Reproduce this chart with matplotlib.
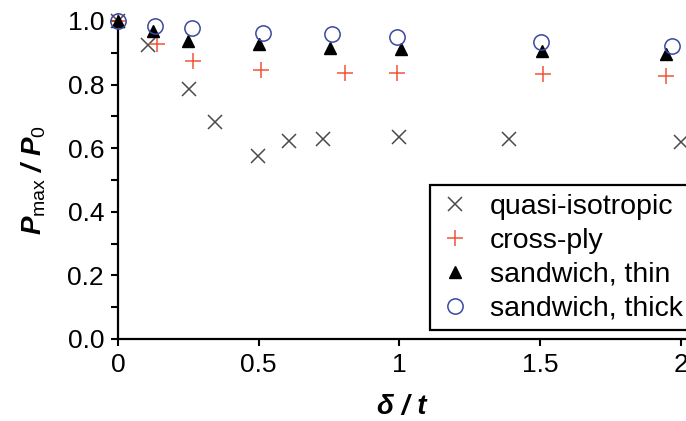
import matplotlib
matplotlib.use("Agg")
import matplotlib.pyplot as plt
from matplotlib.ticker import MultipleLocator, FormatStrFormatter

plt.rcParams['font.family'] = ['Liberation Sans', 'DejaVu Sans']
plt.rcParams['mathtext.fontset'] = 'custom'
plt.rcParams['mathtext.it'] = 'Liberation Sans:italic:bold'
plt.rcParams['mathtext.rm'] = 'Liberation Sans'
plt.rcParams['mathtext.bf'] = 'Liberation Sans:bold'

# data
qi_x = [0.0, 0.105, 0.253, 0.344, 0.497, 0.606, 0.727, 0.997, 1.39, 2.0]
qi_y = [1.0, 0.925, 0.787, 0.681, 0.575, 0.622, 0.628, 0.634, 0.628, 0.62]
cp_x = [0.0, 0.138, 0.265, 0.507, 0.805, 0.993, 1.51, 1.947]
cp_y = [1.0, 0.928, 0.875, 0.847, 0.838, 0.838, 0.834, 0.828]
thin_x = [0.0, 0.124, 0.249, 0.50, 0.752, 1.007, 1.507, 1.947]
thin_y = [1.0, 0.969, 0.9375, 0.928, 0.916, 0.9125, 0.906, 0.897]
thick_x = [0.0, 0.131, 0.262, 0.515, 0.759, 0.99, 1.503, 1.968]
thick_y = [1.0, 0.984, 0.978, 0.963, 0.959, 0.95, 0.934, 0.922]
labels = ['quasi-isotropic', 'cross-ply', 'sandwich, thin', 'sandwich, thick']

fig = plt.figure(figsize=(6.86, 4.21), dpi=100)
ax = fig.add_axes([118/686, 1-339/421, 1-118/686, (339-21)/421])

ax.plot(qi_x, qi_y, ls='none', marker='x', ms=10, mew=1.1, color='#4a4a4a', label=labels[0], clip_on=False, zorder=3)
ax.plot(cp_x, cp_y, ls='none', marker='+', ms=12, mew=1.1, color='#f0553a', label=labels[1], clip_on=False, zorder=3)
ax.plot(thin_x, thin_y, ls='none', marker='^', ms=9, color='black', label=labels[2], clip_on=False, zorder=4)
ax.plot(thick_x, thick_y, ls='none', marker='o', ms=11, mew=1.1, mfc='none', mec='#3a48a0', label=labels[3], clip_on=False, zorder=5)

ax.set_xlim(0, 2.018)
ax.set_ylim(0, 1.0)
ax.xaxis.set_major_locator(MultipleLocator(0.5))
ax.xaxis.set_major_formatter(FormatStrFormatter('%g'))
ax.yaxis.set_major_locator(MultipleLocator(0.2))
ax.yaxis.set_minor_locator(MultipleLocator(0.1))
ax.yaxis.set_major_formatter(FormatStrFormatter('%.1f'))

for s in ['top', 'right']:
    ax.spines[s].set_visible(False)
for s in ['left', 'bottom']:
    ax.spines[s].set_linewidth(1.6)
ax.tick_params(which='both', direction='out', length=5, width=1.5, labelsize=19, colors='black', pad=5)

ax.set_xlabel('δ / t', fontsize=20, fontweight='bold', style='italic', labelpad=12)
ax.set_ylabel(r'$P_{\mathrm{max}}$ / $P_{\mathrm{0}}$', fontsize=20, fontweight='bold', style='italic', labelpad=14)

leg = ax.legend(loc='lower left', bbox_to_anchor=(0.549, 0.028), borderaxespad=0, fontsize=20.5,
                frameon=True, fancybox=False, edgecolor='black', framealpha=1,
                labelspacing=0.28, handletextpad=0.6, handlelength=1.2, borderpad=0.3)
leg.get_frame().set_linewidth(1.6)

fig.savefig('out.png', dpi=100)
